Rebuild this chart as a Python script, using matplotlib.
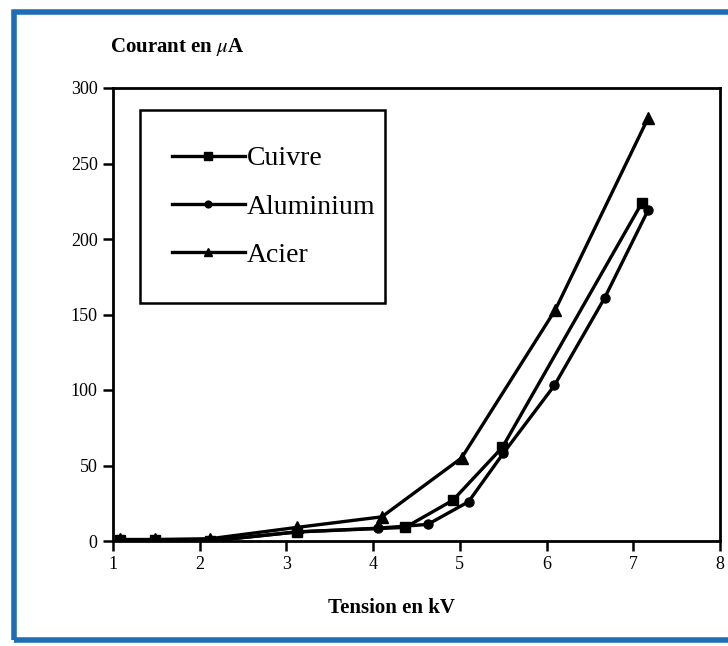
import matplotlib
matplotlib.use("Agg")
import matplotlib.pyplot as plt
from matplotlib.patches import Rectangle

# Tension (kV) et courant (µA) mesurés pour chaque électrode
cuivre_kv = [1.08, 1.48, 2.12, 3.12, 4.37, 4.92, 5.49, 7.10]
cuivre_ua = [0.5, 0.5, 0.0, 6.0, 9.0, 27.0, 62.0, 224.0]

alu_kv = [1.08, 1.48, 2.12, 3.12, 4.06, 4.63, 5.10, 5.50, 6.09, 6.67, 7.17]
alu_ua = [0.5, 0.5, 0.0, 6.0, 8.5, 11.0, 26.0, 58.0, 103.0, 161.0, 219.0]

acier_kv = [1.08, 1.48, 2.12, 3.12, 4.10, 5.02, 6.10, 7.17]
acier_ua = [1.0, 1.0, 1.5, 9.0, 16.0, 55.0, 153.0, 280.0]

x_ticks = [1, 2, 3, 4, 5, 6, 7, 8]
y_ticks = [0, 50, 100, 150, 200, 250, 300]

plt.rcParams["font.family"] = ["Liberation Serif", "DejaVu Serif"]
plt.rcParams["mathtext.fontset"] = "stix"

fig = plt.figure(figsize=(7.28, 6.46), dpi=100)
fig.patch.set_facecolor("white")

# cadre bleu autour de la figure
fig.patches.append(Rectangle((14 / 728, 6 / 646), 730 / 728, 628 / 646,
                             transform=fig.transFigure, fill=False,
                             edgecolor="#1f6db3", linewidth=4.0))

ax = fig.add_axes([113 / 728, 105 / 646, 607 / 728, 453 / 646])

ax.plot(cuivre_kv, cuivre_ua, color="black", lw=2.4, marker="s", ms=7, label="Cuivre")
ax.plot(alu_kv, alu_ua, color="black", lw=2.4, marker="o", ms=6.5, label="Aluminium")
ax.plot(acier_kv, acier_ua, color="black", lw=2.4, marker="^", ms=8, label="Acier")

ax.set_xlim(1, 8)
ax.set_ylim(0, 300)
ax.set_xticks(x_ticks)
ax.set_yticks(y_ticks)
ax.tick_params(direction="out", length=7, width=1.8, labelsize=13, pad=4)
for s in ax.spines.values():
    s.set_linewidth(2.0)

ax.set_xlabel("Tension en kV", fontsize=15, fontweight="bold")
ax.xaxis.set_label_coords((392 - 113) / 607, -0.125)
fig.text(110 / 728, 1 - 47 / 646, "Courant en $\\mu$A", fontsize=15, fontweight="bold",
         ha="left", va="center")

# cadre de la légende
ax.add_patch(Rectangle((0.0445, 0.525), 0.4035, 0.426, transform=ax.transAxes,
                       fill=False, edgecolor="black", linewidth=1.8, zorder=5))
leg = ax.legend(loc="upper left", bbox_to_anchor=(0.097, 0.872), fontsize=20,
                handlelength=2.63, handletextpad=0.07, labelspacing=0.82,
                borderpad=0, borderaxespad=0, frameon=False, markerscale=0.75)

fig.savefig("out.png", dpi=100)
